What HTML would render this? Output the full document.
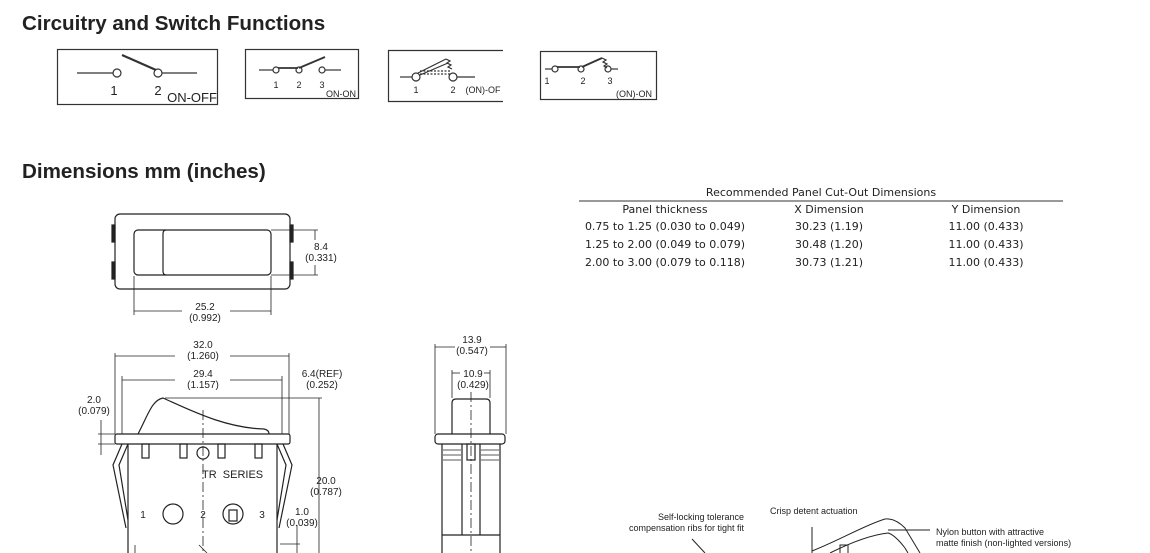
<!DOCTYPE html>
<html><head><meta charset="utf-8"><style>
html,body{margin:0;padding:0;background:#fff;}
svg{display:block;font-family:"Liberation Sans",Arial,sans-serif;}
.t{font-size:10px;fill:#222;text-anchor:middle;}
.c{font-family:"DejaVu Sans","Liberation Sans",sans-serif;font-size:11px;fill:#222;text-anchor:middle;}
</style></head><body>
<svg width="1150" height="553" viewBox="0 0 1150 553" xmlns="http://www.w3.org/2000/svg">
<text x="22" y="30" font-size="20.6" font-weight="bold" fill="#222">Circuitry and Switch Functions</text>
<text x="22" y="178" font-size="20.6" font-weight="bold" fill="#222">Dimensions mm (inches)</text>

<g stroke="#333" fill="none" stroke-width="1.2">
<rect x="57.5" y="49.5" width="160" height="55"/>
<line x1="77" y1="73" x2="113" y2="73"/><circle cx="117" cy="73" r="4" fill="#fff"/>
<circle cx="158" cy="73" r="4" fill="#fff"/><line x1="162" y1="73" x2="197" y2="73"/>
<line x1="122" y1="55" x2="156" y2="70" stroke-width="2.2"/>
<rect x="245.5" y="49.5" width="113" height="49"/>
<line x1="259" y1="70" x2="273" y2="70"/><circle cx="276" cy="70" r="3" fill="#fff"/>
<circle cx="299" cy="70" r="3" fill="#fff"/><circle cx="322" cy="70" r="3" fill="#fff"/><line x1="325" y1="70" x2="341" y2="70"/>
<line x1="278" y1="68" x2="298" y2="68" stroke-width="1.8"/><line x1="299" y1="68" x2="325" y2="57" stroke-width="1.8"/>
<path d="M503 50.5 H388.5 V101.5 H503"/>
<line x1="400" y1="77" x2="412" y2="77"/><circle cx="416" cy="77" r="4" fill="#fff"/>
<circle cx="453" cy="77" r="4" fill="#fff"/><line x1="457" y1="77" x2="475" y2="77"/>
<line x1="418" y1="73" x2="446" y2="59"/><line x1="420" y1="75" x2="448" y2="63"/>
<line x1="420" y1="71" x2="450" y2="71" stroke-dasharray="2,1.5"/><line x1="420" y1="74" x2="450" y2="74" stroke-dasharray="2,1.5"/>
<path d="M446 59 l4 2 -3 2 4 2 -3 2 4 2"/>
<rect x="540.5" y="51.5" width="116" height="48"/>
<line x1="545" y1="69" x2="552" y2="69"/><circle cx="555" cy="69" r="3" fill="#fff"/>
<circle cx="581" cy="69" r="3" fill="#fff"/><circle cx="608" cy="69" r="3" fill="#fff"/><line x1="611" y1="69" x2="618" y2="69"/>
<line x1="557" y1="67" x2="580" y2="67" stroke-width="1.8"/><line x1="582" y1="67" x2="602" y2="58" stroke-width="1.8"/>
<path d="M602 58 l4 2 -3 2 4 2 -3 2 3 2"/>
</g>
<g font-size="11" fill="#222" text-anchor="middle">
<text x="114" y="95" font-size="13">1</text><text x="158" y="95" font-size="13">2</text>
<text x="192" y="102" font-size="13">ON-OFF</text>
<text x="276" y="88" font-size="9">1</text><text x="299" y="88" font-size="9">2</text><text x="322" y="88" font-size="9">3</text>
<text x="341" y="97" font-size="9">ON-ON</text>
<text x="416" y="93" font-size="9">1</text><text x="453" y="93" font-size="9">2</text><text x="483" y="93" font-size="9">(ON)-OF</text>
<text x="547" y="84" font-size="9">1</text><text x="583" y="84" font-size="9">2</text><text x="610" y="84" font-size="9">3</text>
<text x="634" y="97" font-size="9">(ON)-ON</text>
</g>

<g stroke="#222" fill="none" stroke-width="1.2">
<rect x="115" y="214" width="175" height="75" rx="5"/>
<rect x="134" y="230" width="137" height="45" rx="4"/>
<path d="M166 230 q-3 0 -3 4 v37 q0 4 3 4"/>
<rect x="112" y="225" width="3" height="17" fill="#222"/><rect x="112" y="262" width="3" height="17" fill="#222"/>
<rect x="290" y="225" width="3" height="17" fill="#222"/><rect x="290" y="262" width="3" height="17" fill="#222"/>
<g stroke-width="0.8">
<line x1="271" y1="230" x2="318" y2="230"/><line x1="271" y1="275" x2="318" y2="275"/>
<line x1="315" y1="230" x2="315" y2="240"/><line x1="315" y1="265" x2="315" y2="275"/>
<line x1="134" y1="276" x2="134" y2="315"/><line x1="271" y1="276" x2="271" y2="315"/>
<line x1="134" y1="311" x2="182" y2="311"/><line x1="230" y1="311" x2="271" y2="311"/>
</g></g>
<text class="t" x="321" y="250">8.4</text><text class="t" x="321" y="261">(0.331)</text>
<text class="t" x="205" y="310">25.2</text><text class="t" x="205" y="321">(0.992)</text>

<g stroke="#222" fill="none" stroke-width="1.2">
<rect x="115" y="434" width="175" height="10" rx="2"/>
<path d="M138 434 C148 415 152 400 163 398 C190 410 225 428 264 429 Q269 430 269 434"/>
<path d="M128 444 V553 M277 444 V553"/>
<path d="M122 444 L113 465 L126 528 M128 444 L119 465 L128 520"/>
<path d="M283 444 L292 465 L279 528 M277 444 L286 465 L277 520"/>
<rect x="142" y="444" width="7" height="14"/><rect x="180" y="444" width="7" height="14"/>
<rect x="218" y="444" width="7" height="14"/><rect x="255" y="444" width="7" height="14"/>
<circle cx="203" cy="453" r="6"/>
<circle cx="173" cy="514" r="10"/><circle cx="233" cy="514" r="10"/><rect x="229" y="510" width="8" height="11"/>
<line x1="203" y1="410" x2="203" y2="553" stroke-width="0.8" stroke-dasharray="10,3,2,3"/>
<g stroke-width="0.8">
<line x1="115" y1="353" x2="115" y2="434"/><line x1="289" y1="353" x2="289" y2="434"/>
<line x1="115" y1="356" x2="175" y2="356"/><line x1="230" y1="356" x2="289" y2="356"/>
<line x1="122" y1="376" x2="122" y2="434"/><line x1="282" y1="376" x2="282" y2="434"/>
<line x1="122" y1="380" x2="175" y2="380"/><line x1="230" y1="380" x2="282" y2="380"/>
<line x1="165" y1="398" x2="322" y2="398"/><line x1="319" y1="398" x2="319" y2="553"/>
<line x1="98" y1="434" x2="115" y2="434"/><line x1="98" y1="444" x2="115" y2="444"/>
<line x1="101" y1="420" x2="101" y2="455"/>
<line x1="297" y1="525" x2="297" y2="553"/><line x1="280" y1="544" x2="300" y2="544"/>
<line x1="135" y1="545" x2="135" y2="553"/><line x1="199" y1="545" x2="207" y2="553"/>
</g></g>
<text class="t" x="203" y="348">32.0</text><text class="t" x="203" y="359">(1.260)</text>
<text class="t" x="203" y="377">29.4</text><text class="t" x="203" y="388">(1.157)</text>
<text class="t" x="322" y="377">6.4(REF)</text><text class="t" x="322" y="388">(0.252)</text>
<text class="t" x="94" y="403">2.0</text><text class="t" x="94" y="414">(0.079)</text>
<text class="t" x="326" y="484">20.0</text><text class="t" x="326" y="495">(0.787)</text>
<text class="t" x="302" y="515">1.0</text><text class="t" x="302" y="526">(0.039)</text>
<text x="202" y="478" font-size="11" fill="#222">TR&#160;&#160;SERIES</text>
<text class="t" x="143" y="518" font-size="8">1</text><text class="t" x="203" y="518" font-size="8">2</text><text class="t" x="262" y="518" font-size="8">3</text>

<g stroke="#222" fill="none" stroke-width="1.2">
<rect x="435" y="434" width="70" height="10" rx="3"/>
<path d="M452 434 V403 q0 -4 4 -4 h30 q4 0 4 4 V434"/>
<path d="M442 444 V553 M500 444 V553 M462 444 V535 M480 444 V535 M442 535 H500"/>
<path d="M443 450 h18 M443 455 h18 M443 460 h18 M481 450 h18 M481 455 h18 M481 460 h18" stroke-width="0.8"/>
<rect x="467" y="444" width="8" height="16"/>
<line x1="471" y1="392" x2="471" y2="553" stroke-width="0.8" stroke-dasharray="10,3,2,3"/>
<g stroke-width="0.8">
<line x1="435" y1="344" x2="435" y2="434"/><line x1="506" y1="344" x2="506" y2="434"/>
<line x1="435" y1="347" x2="455" y2="347"/><line x1="490" y1="347" x2="506" y2="347"/>
<line x1="452" y1="370" x2="452" y2="398"/><line x1="490" y1="370" x2="490" y2="398"/>
<line x1="452" y1="373" x2="460" y2="373"/><line x1="484" y1="373" x2="490" y2="373"/>
</g></g>
<text class="t" x="472" y="343">13.9</text><text class="t" x="472" y="354">(0.547)</text>
<text class="t" x="473" y="377">10.9</text><text class="t" x="473" y="388">(0.429)</text>

<text class="c" x="821" y="196">Recommended Panel Cut-Out Dimensions</text>
<line x1="579" y1="201" x2="1063" y2="201" stroke="#333" stroke-width="1"/>
<g class="c">
<text class="c" x="665" y="213">Panel thickness</text><text class="c" x="829" y="213">X Dimension</text><text class="c" x="986" y="213">Y Dimension</text>
<text class="c" x="665" y="230">0.75 to 1.25 (0.030 to 0.049)</text><text class="c" x="829" y="230">30.23 (1.19)</text><text class="c" x="986" y="230">11.00 (0.433)</text>
<text class="c" x="665" y="248">1.25 to 2.00 (0.049 to 0.079)</text><text class="c" x="829" y="248">30.48 (1.20)</text><text class="c" x="986" y="248">11.00 (0.433)</text>
<text class="c" x="665" y="266">2.00 to 3.00 (0.079 to 0.118)</text><text class="c" x="829" y="266">30.73 (1.21)</text><text class="c" x="986" y="266">11.00 (0.433)</text>
</g>

<g font-size="9" fill="#222">
<text x="744" y="520" text-anchor="end">Self-locking tolerance</text>
<text x="744" y="531" text-anchor="end">compensation ribs for tight fit</text>
<text x="770" y="514">Crisp detent actuation</text>
<text x="936" y="535">Nylon button with attractive</text>
<text x="936" y="546">matte finish (non-lighted versions)</text>
</g>
<g stroke="#222" fill="none" stroke-width="1">
<path d="M692 539 L705 553"/><path d="M812 527 V553"/><path d="M888 530 H930"/>
<path d="M812 551 C840 540 865 525 885 519 Q895 518 905 528 L920 553"/>
<path d="M830 553 C850 543 870 535 888 533 Q895 535 905 548 L908 553"/>
<path d="M840 553 V545 h8 V553"/>
</g>
</svg>
</body></html>
